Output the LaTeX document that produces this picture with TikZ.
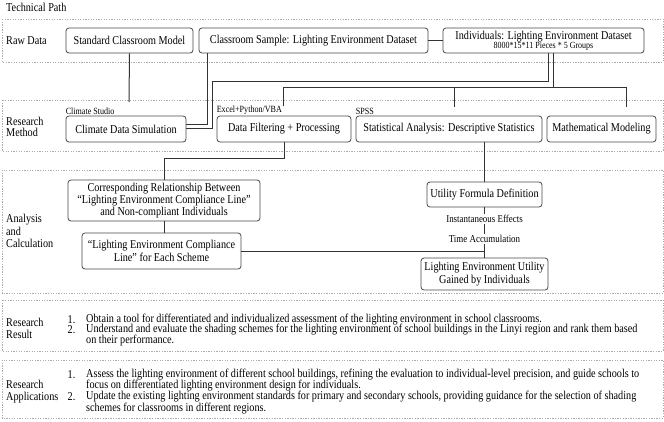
\documentclass[tikz,border=0pt]{standalone}
\usepackage{fontspec}
\setmainfont{Liberation Serif}[FakeStretch=0.85]
\begin{document}
\begin{tikzpicture}[x=1pt,y=-1pt,
  panel/.style={draw=black!32, dash pattern=on 1.3pt off 1.3pt, line width=0.7pt},
  box/.style={draw=black!72, rounded corners=3pt, line width=0.8pt, align=center, inner sep=0pt, font=\fontsize{12}{12.3}\selectfont},
  conn/.style={draw=black!80, line width=1pt},
  tool/.style={anchor=south west, inner sep=0pt, font=\fontsize{9.5}{10}\selectfont},
  sec/.style={anchor=west, align=left, inner sep=0pt},
  item/.style={anchor=west, inner sep=0pt, font=\fontsize{12}{12}\selectfont},
  elab/.style={fill=white, inner sep=1pt, font=\fontsize{10.5}{11}\selectfont}
]
\useasboundingbox (0,0) rectangle (664,421);
% panels
\draw[panel] (2,19) rectangle (663,62);
\draw[panel] (2,100) rectangle (663,151);
\draw[panel] (2,170) rectangle (663,293);
\draw[panel] (2,300) rectangle (663,351);
\draw[panel] (2,360) rectangle (663,418);
% section labels
\node[sec, font=\fontsize{12}{12}\selectfont] (title) at (6,7.5) {Technical Path};
\node[sec, font=\fontsize{12}{12}\selectfont] (lraw) at (6,40.5) {Raw Data};
\node[sec, font=\fontsize{12}{11.5}\selectfont] (lmeth) at (6,127) {Research\\Method};
\node[sec, font=\fontsize{12}{12.7}\selectfont] (lanal) at (6,231) {Analysis\\and\\Calculation};
\node[sec, font=\fontsize{12}{11.8}\selectfont] (lres) at (6,328) {Research\\Result};
\node[sec, font=\fontsize{12}{11.8}\selectfont] (lapp) at (6,391.5) {Research\\Applications};
% raw data boxes
\node[box, minimum width=127, minimum height=25] (sc) at (129.5,40.5) {Standard Classroom Model};
\node[box, minimum width=229, minimum height=25] (cs) at (313.5,40.5) {Classroom Sample: Lighting Environment Dataset};
\node[box, minimum width=201, minimum height=25] (ind) at (543.5,40.5) {Individuals: Lighting Environment Dataset\\[-3pt]{\fontsize{9.4}{9.4}\selectfont 8000*15*11 Pieces * 5 Groups}};
% method boxes
\node[box, minimum width=120, minimum height=26] (cds) at (126,129) {Climate Data Simulation};
\node[box, minimum width=134, minimum height=26] (dfp) at (284,129) {Data Filtering + Processing};
\node[box, minimum width=186, minimum height=26] (sa) at (449,129) {Statistical Analysis: Descriptive Statistics};
\node[box, minimum width=109, minimum height=26] (mm) at (601.5,129) {Mathematical Modeling};
\node[tool] (tcs) at ([yshift=0.6pt]cds.north west) {Climate Studio};
\node[tool] (tdf) at ([yshift=0.6pt]dfp.north west) {Excel+Python/VBA};
\node[tool] (tsa) at ([yshift=0.6pt]sa.north west) {SPSS};
% analysis boxes
\node[box, minimum width=192, minimum height=41] (cr) at (164,200.5) {Corresponding Relationship Between\\``Lighting Environment Compliance Line''\\and Non-compliant Individuals};
\node[box, minimum width=159, minimum height=36] (cl) at (161.5,251) {``Lighting Environment Compliance\\Line'' for Each Scheme};
\node[box, minimum width=115, minimum height=25] (uf) at (484.5,194.5) {Utility Formula Definition};
\node[box, minimum width=127, minimum height=32, font=\fontsize{12}{12.8}\selectfont] (leu) at (484.5,274) {Lighting Environment Utility\\Gained by Individuals};
% connectors
\coordinate (scEnd) at (129,102);
\coordinate (j1) at (212,81);
\coordinate (bus) at (553,87);
\coordinate (tA) at (283,87);
\coordinate (tB) at (454,87);
\coordinate (tC) at (626,87);
\coordinate (dA) at (283,106);
\coordinate (dB) at (454,107);
\coordinate (dC) at (626,107);
\draw[conn] (sc.south) -- (scEnd);
\draw[conn] (cs.east) -- (ind.west);
\draw[conn] ([xshift=9pt]cs.south west) |- ([yshift=5pt]cds.east);
\draw[conn] ([xshift=4.5pt]ind.south) |- (j1) |- ([yshift=1pt]cds.east);
\draw[conn] ([xshift=9.5pt]ind.south) -- (bus);
\draw[conn] (dA) -- (tA) -- (tC) -- (dC);
\draw[conn] (tB) -- (dB);
\draw[conn] (dfp.south) -- ++(0,16) -| (cr.north);
\draw[conn] (cr.south) -- (cr.south |- cl.north);
\draw[conn] (uf.north |- sa.south) -- (uf.north);
\draw[conn] (cl.east) -- (cl.east -| uf.south);
\draw[conn] (uf.south) -- node[elab, pos=0.235] (e1) {Instantaneous Effects} node[elab, pos=0.63] (e2) {Time Accumulation} (leu.north);
% result items
\node[item] (rn1) at (67.5,319.5) {1.};
\node[item] (r1) at (86,319.5) {Obtain a tool for differentiated and individualized assessment of the lighting environment in school classrooms.};
\node[item] (rn2) at (67.5,330) {2.};
\node[item] (r2a) at (86,330) {Understand and evaluate the shading schemes for the lighting environment of school buildings in the Linyi region and rank them based};
\node[item] (r2b) at (86,341) {on their performance.};
% application items
\node[item] (an1) at (67.5,374.5) {1.};
\node[item] (a1a) at (86,374.5) {Assess the lighting environment of different school buildings, refining the evaluation to individual-level precision, and guide schools to};
\node[item] (a1b) at (86,385.5) {focus on differentiated lighting environment design for individuals.};
\node[item] (an2) at (67.5,397) {2.};
\node[item] (a2a) at (86,397) {Update the existing lighting environment standards for primary and secondary schools, providing guidance for the selection of shading};
\node[item] (a2b) at (86,408.5) {schemes for classrooms in different regions.};
\end{tikzpicture}
\end{document}
